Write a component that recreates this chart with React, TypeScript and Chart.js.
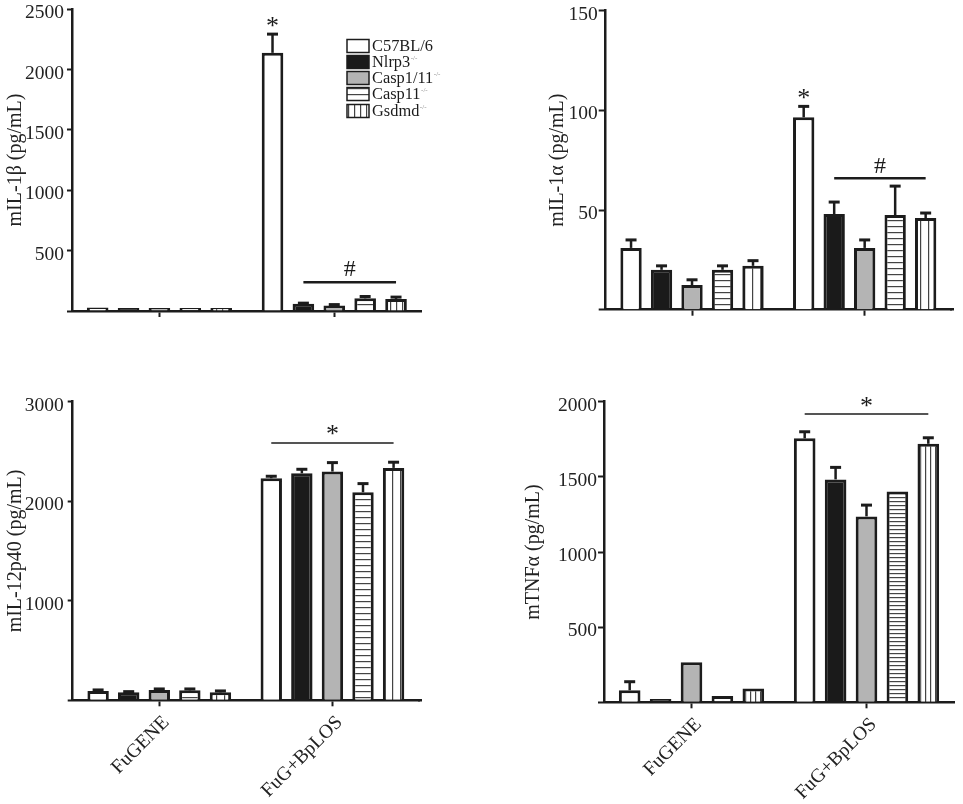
import React, { useEffect, useRef } from "react";
import { Chart, registerables } from "chart.js";

Chart.register(...registerables);

const FONT = '"Liberation Serif"';
const INK = "#1c1c1c";

const groups = ["FuGENE", "FuG+BpLOS"];
const genotypes = ["C57BL/6", "Nlrp3", "Casp1/11", "Casp11", "Gsdmd"];
const knockout = [false, true, true, true, true];

const il1bFugene = [30, 24, 24, 24, 24];
const il1bFugeneErr = [0, 0, 0, 0, 0];
const il1bLos = [2137, 60, 45, 105, 100];
const il1bLosErr = [155, 5, 8, 15, 15];

const il1aFugene = [31, 20, 12.4, 20, 22];
const il1aFugeneErr = [4, 2, 2.6, 2, 2.6];
const il1aLos = [96.5, 48, 31, 47.5, 46];
const il1aLosErr = [5.5, 6, 4, 14.5, 2.5];

const il12Fugene = [94, 80, 104, 100, 80];
const il12FugeneErr = [10, 7, 10, 14, 14];
const il12Los = [2231, 2281, 2298, 2090, 2335];
const il12LosErr = [20, 40, 90, 87, 57];

const tnfFugene = [80, 22, 266, 42, 91];
const tnfFugeneErr = [57, 0, 0, 0, 0];
const tnfLos = [1756, 1483, 1237, 1403, 1720];
const tnfLosErr = [44, 80, 75, 0, 40];

const stripes = (vertical: boolean, pitch: number) => {
    const c = document.createElement("canvas");
    c.width = pitch;
    c.height = pitch;
    const g = c.getContext("2d")!;
    g.fillStyle = "#fff";
    g.fillRect(0, 0, pitch, pitch);
    g.fillStyle = "#444";
    if (vertical) g.fillRect(0, 0, 1.2, pitch);
    else g.fillRect(0, 0, pitch, 1.2);
    return g.createPattern(c, "repeat");
};

// the top two canvases start above the page so the top tick label has room
const panels = [
    {
        title: "mIL-1β (pg/mL)", fugene: il1bFugene, fugeneErr: il1bFugeneErr, los: il1bLos, losErr: il1bLosErr,
        max: 2500, step: 500, box: { left: 0, top: -20, width: 480, height: 350 },
        area: { left: 72, top: 29, right: 421.7, bottom: 331 },
        titleGap: 3.6, hPitch: 6, vPitch: 6, xLabels: false, legend: true, lineWidth: 2.5, overhang: 0,
        tickLen: 5, labelGap: 3,
        notes: [
            { from: 0, to: 0, line: null, labelAt: 2346, text: "*" },
            { from: 1, to: 4, line: 237, labelAt: 345, text: "#" },
        ],
    },
    {
        title: "mIL-1α (pg/mL)", fugene: il1aFugene, fugeneErr: il1aFugeneErr, los: il1aLos, losErr: il1aLosErr,
        max: 150, step: 50, box: { left: 480, top: -20, width: 483, height: 350 },
        area: { left: 125.7, top: 30.7, right: 471, bottom: 329.7 },
        titleGap: 65.6, hPitch: 6.5, vPitch: 8, xLabels: false, legend: false, lineWidth: 2.5, overhang: 3,
        tickLen: 7, labelGap: 1,
        notes: [
            { from: 0, to: 0, line: null, labelAt: 105.7, text: "*" },
            { from: 1, to: 4, line: 65.9, labelAt: 71.5, text: "#" },
        ],
    },
    {
        title: "mIL-12p40 (pg/mL)", fugene: il12Fugene, fugeneErr: il12FugeneErr, los: il12Los, losErr: il12LosErr,
        max: 3000, step: 1000, box: { left: 0, top: 385, width: 480, height: 419 },
        area: { left: 72.7, top: 16.7, right: 419, bottom: 315.3 },
        titleGap: 3.6, hPitch: 6.5, vPitch: 8, xLabels: true, legend: false, lineWidth: 1.5, overhang: 3,
        tickLen: 5, labelGap: 4,
        notes: [{ from: 0, to: 4, line: 2586, labelAt: 2666, text: "*" }],
    },
    {
        title: "mTNFα (pg/mL)", fugene: tnfFugene, fugeneErr: tnfFugeneErr, los: tnfLos, losErr: tnfLosErr,
        max: 2000, step: 500, box: { left: 480, top: 385, width: 483, height: 419 },
        area: { left: 124, top: 16.7, right: 474, bottom: 317.3 },
        titleGap: 41.6, hPitch: 4.5, vPitch: 5, xLabels: true, legend: false, lineWidth: 1.5, overhang: 0,
        tickLen: 6, labelGap: 1,
        notes: [{ from: 0, to: 4, line: 1918, labelAt: 1965, text: "*" }],
    },
];

const Panel = ({ panel }: { panel: any }) => {
    const canvasRef = useRef<HTMLCanvasElement>(null);

    useEffect(() => {
        const context = canvasRef.current?.getContext("2d");
        if (!context) return;

        const { area, box } = panel;
        const fills = ["#fff", "#1a1a1a", "#b4b4b4", stripes(false, panel.hPitch), stripes(true, panel.vPitch)];

        const marks = {
            id: "marks",
            afterDatasetsDraw(chart: any) {
                const { ctx, scales } = chart;
                const y = scales.y;
                ctx.save();
                ctx.strokeStyle = INK;
                ctx.fillStyle = INK;

                // error bars
                genotypes.forEach((_, s) => {
                    const bars = chart.getDatasetMeta(s).data;
                    [panel.fugeneErr[s], panel.losErr[s]].forEach((err: number, g: number) => {
                        if (!err) return;
                        const x = bars[g].x;
                        const yTop = y.getPixelForValue(chart.data.datasets[s].data[g] + err);
                        ctx.lineWidth = 2.5;
                        ctx.beginPath();
                        ctx.moveTo(x, bars[g].y);
                        ctx.lineTo(x, yTop);
                        ctx.stroke();
                        ctx.lineWidth = 3;
                        ctx.beginPath();
                        ctx.moveTo(x - 5.5, yTop);
                        ctx.lineTo(x + 5.5, yTop);
                        ctx.stroke();
                    });
                });

                // significance lines and their signs, always over the second group
                panel.notes.forEach((n: any) => {
                    const x0 = chart.getDatasetMeta(n.from).data[1].x;
                    const x1 = chart.getDatasetMeta(n.to).data[1].x;
                    if (n.line !== null) {
                        const ly = y.getPixelForValue(n.line);
                        ctx.lineWidth = panel.lineWidth;
                        ctx.beginPath();
                        ctx.moveTo(x0, ly);
                        ctx.lineTo(x1, ly);
                        ctx.stroke();
                    }
                    ctx.font = `${n.text === "*" ? 26 : 24}px ${FONT}`;
                    ctx.textAlign = "center";
                    ctx.textBaseline = "middle";
                    ctx.fillText(n.text, (x0 + x1) / 2, y.getPixelForValue(n.labelAt));
                });

                if (panel.overhang) {
                    // same pixel snapping as the axis border, so the two join up
                    const yLine = Math.round(chart.chartArea.bottom - 1.25) + 1.25;
                    ctx.lineWidth = 2.5;
                    ctx.beginPath();
                    ctx.moveTo(chart.chartArea.right - 1, yLine);
                    ctx.lineTo(chart.chartArea.right + panel.overhang, yLine);
                    ctx.stroke();
                }

                // legend has superscripts, so the built-in one can't do it
                if (panel.legend) {
                    const rows = [46, 62, 78, 94, 111].map((r) => r - box.top);
                    ctx.textAlign = "left";
                    ctx.textBaseline = "middle";
                    genotypes.forEach((name, s) => {
                        ctx.fillStyle = fills[s];
                        ctx.fillRect(347, rows[s] - 6.5, 22, 13);
                        ctx.lineWidth = 1.5;
                        ctx.strokeStyle = INK;
                        ctx.strokeRect(347, rows[s] - 6.5, 22, 13);
                        ctx.fillStyle = INK;
                        ctx.font = `16.4px ${FONT}`;
                        ctx.fillText(name, 372, rows[s] + 1);
                        if (knockout[s]) {
                            const w = ctx.measureText(name).width;
                            ctx.font = `7px ${FONT}`;
                            ctx.fillStyle = "#888";
                            ctx.fillText("-/-", 372 + w + 0.5, rows[s] - 4);
                        }
                    });
                }
                ctx.restore();
            },
        };

        const options: any = {
            responsive: false,
            animation: false,
            devicePixelRatio: 1,
            layout: {
                autoPadding: false,
                padding: { left: 0, top: area.top, right: box.width - area.right, bottom: 0 },
            },
            plugins: { legend: { display: false }, tooltip: { enabled: false }, title: { display: false } },
            scales: {
                x: {
                    afterFit: (scale: any) => { scale.height = box.height - area.bottom; },
                    offset: true,
                    border: { color: INK, width: 2.5 },
                    grid: { offset: false, drawOnChartArea: false, tickLength: 6, tickWidth: 2, tickColor: INK },
                    ticks: {
                        display: panel.xLabels,
                        autoSkip: false,
                        minRotation: 45,
                        maxRotation: 45,
                        labelOffset: 7,
                        padding: 5,
                        color: "#222",
                        font: { family: FONT, size: 19.5 },
                    },
                },
                y: {
                    afterFit: (scale: any) => { scale.width = area.left; },
                    min: 0,
                    max: panel.max,
                    border: { color: INK, width: 2.5 },
                    grid: { drawOnChartArea: false, tickLength: panel.tickLen, tickWidth: 2, tickColor: INK },
                    title: {
                        display: true,
                        text: panel.title,
                        color: "#222",
                        padding: { top: panel.titleGap, bottom: 0 },
                        font: { family: FONT, size: 20 },
                    },
                    ticks: {
                        stepSize: panel.step,
                        padding: panel.labelGap,
                        labelOffset: 4,
                        color: "#222",
                        font: { family: FONT, size: 19.5 },
                        callback: (v: number) => (v === 0 ? "" : String(v)),
                    },
                },
            },
        };

        const chart = new Chart(context, {
            type: "bar",
            data: {
                labels: groups,
                datasets: genotypes.map((name, s) => ({
                    label: name,
                    data: [panel.fugene[s], panel.los[s]],
                    backgroundColor: fills[s] as any,
                    borderColor: INK,
                    borderWidth: 3,
                    categoryPercentage: 0.883,
                    barPercentage: 0.7,
                })),
            },
            options,
            plugins: [marks],
        });

        return () => chart.destroy();
    }, [panel]);

    const { left, top, width, height } = panel.box;
    return (
        <canvas
            ref={canvasRef}
            width={width}
            height={height}
            style={{ position: "absolute", left, top, width, height }}
        />
    );
};

export default function App() {
    return (
        <div style={{ position: "absolute", left: 0, top: 0, width: 963, height: 804, background: "#fff", overflow: "hidden" }}>
            {panels.map((p) => (
                <Panel key={p.title} panel={p} />
            ))}
        </div>
    );
}
